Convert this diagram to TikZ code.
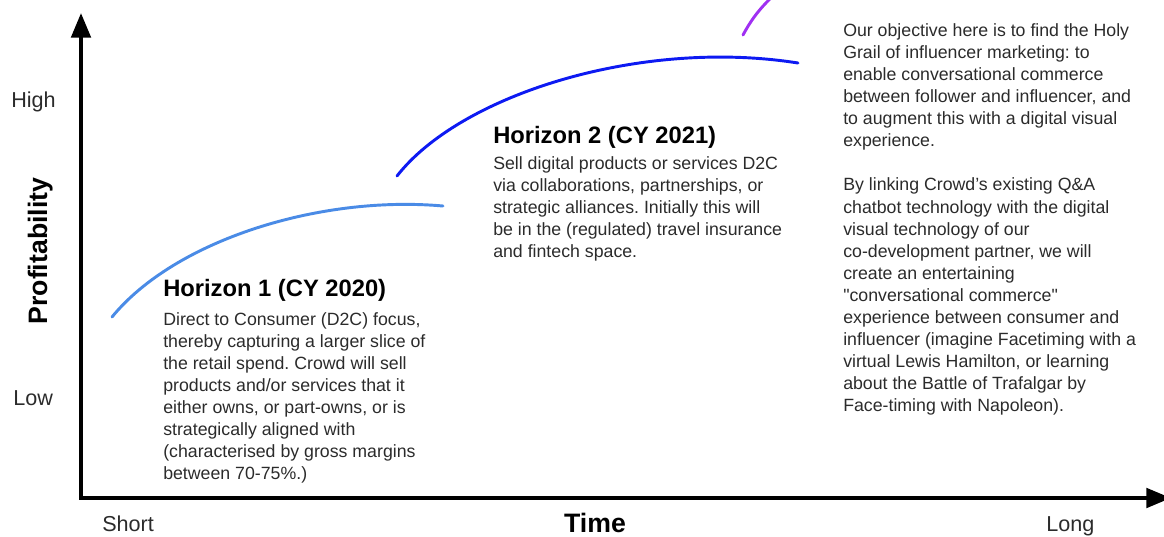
\documentclass[tikz,border=0pt]{standalone}
\usepackage{fontspec}
\setmainfont{Liberation Sans}
% same face without the TeX input mapping, for straight double quotes
\newfontfamily\straightfont{Liberation Sans}
\usetikzlibrary{arrows.meta}

\definecolor{bodytext}{HTML}{2B2B2B}
\definecolor{horizonone}{HTML}{4A8BE6}
\definecolor{horizontwo}{HTML}{0D1AF2}
\definecolor{horizonthree}{HTML}{A030F2}

\newcommand\bodysize{\fontsize{13.3}{16.55}\selectfont}
\newcommand\dquote{{\straightfont\char34}}

\tikzset{
  axis/.style={line width=3pt, line join=miter,
    {Triangle[length=18.5pt,width=14.5pt]}-{Triangle[length=18.5pt,width=14.5pt]}},
  curve/.style={line width=2.2pt, line cap=round},
  title/.style={anchor=base west, inner sep=0pt, text=black,
    font=\bfseries\fontsize{17.8}{21}\selectfont},
  body/.style={anchor=base west, inner sep=0pt, text=bodytext, font=\bodysize},
  scalelabel/.style={anchor=base west, inner sep=0pt, text=bodytext,
    font=\fontsize{16.2}{19}\selectfont},
  axislabel/.style={anchor=base, inner sep=0pt, text=black,
    font=\bfseries\fontsize{20}{24}\selectfont},
}

\begin{document}
\frenchspacing
\begin{tikzpicture}[x=0.75pt, y=-0.75pt]
\useasboundingbox (0,0) rectangle (1164,536);
\clip (0,0) rectangle (1164,536);

% axes
\coordinate (ytop) at (81,13);
\coordinate (origin) at (81,498);
\coordinate (xend) at (1171,498);
\draw[axis] (ytop) -- (origin) -- (xend);

% axis labels
\node[scalelabel] (high) at (11,107.3) {High};
\node[scalelabel] (low) at (13,405) {Low};
\node[scalelabel] (short) at (102,531) {Short};
\node[scalelabel] (long) at (1046,531) {Long};
\node[axislabel, rotate=90] (profit) at (47,251) {Profitability};
\node[axislabel] (time) at (595,532) {Time};

% growth curves of the three horizons
\coordinate (c1s) at (112,317);
\coordinate (c1e) at (443,206);
\draw[curve, horizonone] (c1s) .. controls (175,240) and (320,195) .. (c1e);
\coordinate (c2s) at (397,176);
\coordinate (c2e) at (798,63);
\draw[curve, horizontwo] (c2s) .. controls (460,95) and (640,38) .. (c2e);
\coordinate (c3s) at (743,35);
\coordinate (c3e) at (773,-4);
\draw[curve, horizonthree] (c3s) .. controls (750,22) and (758,10) .. (c3e);

% Horizon 1
\node[title] (h1title) at (163,296.7) {Horizon 1 (CY 2020)};
\node[body] (h1body) at (163,325) {\parbox[t]{300pt}{\raggedright
Direct to Consumer (D2C) focus,\\
thereby capturing a larger slice of\\
the retail spend. Crowd will sell\\
products and/or services that it\\
either owns, or part-owns, or is\\
strategically aligned with\\
(characterised by gross margins\\
between 70-75\%.)}};

% Horizon 2
\node[title] (h2title) at (493,143) {Horizon 2 (CY 2021)};
\node[body] (h2body) at (493,169) {\parbox[t]{300pt}{\raggedright
Sell digital products or services D2C\\
via collaborations, partnerships, or\\
strategic alliances. Initially this will\\
be in the (regulated) travel insurance\\
and fintech space.}};

% Horizon 3
\node[body] (h3body) at (843,36.5) {\parbox[t]{300pt}{\raggedright
Our objective here is to find the Holy\\
Grail of influencer marketing: to\\
enable conversational commerce\\
between follower and influencer, and\\
to augment this with a digital visual\\
experience.\\[16.55pt]
By linking Crowd’s existing Q\&A\\
chatbot technology with the digital\\
visual technology of our\\
co-development partner, we will\\
create an entertaining\\
\dquote conversational commerce\dquote\\
experience between consumer and\\
influencer (imagine Facetiming with a\\
virtual Lewis Hamilton, or learning\\
about the Battle of Trafalgar by\\
Face-timing with Napoleon).}};
\end{tikzpicture}
\end{document}
